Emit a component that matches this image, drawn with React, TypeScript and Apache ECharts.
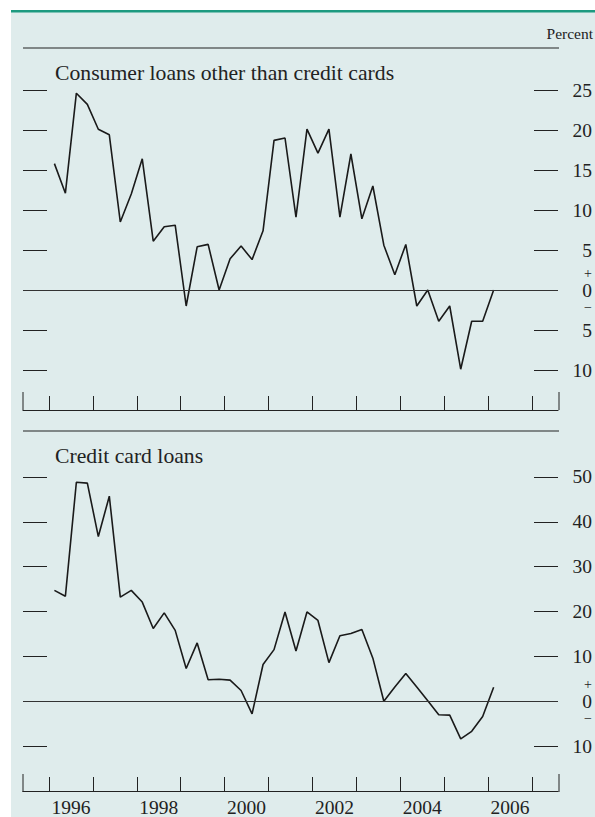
import React, { useEffect, useRef } from "react";
import * as echarts from "echarts";

const consumerLoans = [
  15.8, 12.1, 24.6, 23.2, 20.1, 19.4, 8.5, 12.0, 16.4, 6.1,
  7.9, 8.1, -2.0, 5.4, 5.7, 0.0, 3.9, 5.5, 3.8, 7.4,
  18.7, 19.0, 9.1, 20.1, 17.1, 20.1, 9.1, 17.0, 8.9, 13.0,
  5.6, 1.9, 5.7, -2.0, 0.0, -3.9, -2.0, -9.9, -3.9, -3.9,
  0.0,
];

const creditCardLoans = [
  24.7, 23.4, 48.8, 48.6, 36.7, 45.7, 23.2, 24.7, 22.1, 16.2,
  19.7, 15.8, 7.3, 13.0, 4.8, 4.9, 4.7, 2.4, -2.8, 8.2,
  11.5, 19.9, 11.2, 19.9, 18.0, 8.6, 14.6, 15.1, 16.0, 9.6,
  0.0, 3.2, 6.2, 3.2, 0.1, -3.0, -3.1, -8.4, -6.7, -3.4,
  3.1,
];

const firstYear = 1996;
const yearTicks = [1996, 1997, 1998, 1999, 2000, 2001, 2002, 2003, 2004, 2005, 2006, 2007];
const yearLabels = [1996, 1998, 2000, 2002, 2004, 2006];
const topTicks = [-10, -5, 0, 5, 10, 15, 20, 25];
const bottomTicks = [-10, 0, 10, 20, 30, 40, 50];

const titleTop = "Consumer loans other than credit cards";
const titleBottom = "Credit card loans";
const unitLabel = "Percent";

const FONT = "'Liberation Serif', 'Times New Roman', serif";
const INK = "#222";

function toPoints(values: number[]) {
  return values.map((v, i) => [firstYear + (i + 0.5) / 4, v]);
}

export default function App() {
  const ref = useRef<HTMLDivElement>(null);

  useEffect(() => {
    if (!ref.current) return;
    const chart = echarts.init(ref.current, null, { renderer: "svg" });

    const xAxisBase = (gridIndex: number, showLabels: boolean) => ({
      type: "value",
      gridIndex,
      min: 1995.41,
      max: 2007.59,
      axisLine: { show: true, onZero: false, lineStyle: { color: INK, width: 1.2 } },
      axisTick: {
        show: true,
        inside: true,
        length: 14,
        customValues: yearTicks,
        lineStyle: { color: INK, width: 1 },
      },
      splitLine: { show: false },
      axisLabel: {
        show: showLabels,
        customValues: yearLabels.map((y) => y + 0.5),
        formatter: (v: number) => String(Math.floor(v)),
        fontFamily: FONT,
        fontSize: 19.5,
        color: INK,
        margin: 6,
      },
    });

    const rightLabel = (v: number) => {
      if (v === 0) return "{s|+}\n{z|0}\n{s|\u2212}";
      return String(Math.abs(v));
    };

    const yAxisPair = (gridIndex: number, min: number, max: number, ticks: number[]) => [
      {
        type: "value",
        gridIndex,
        position: "left",
        min,
        max,
        axisLine: { show: false },
        axisTick: {
          show: true,
          inside: true,
          length: 24,
          customValues: ticks,
          lineStyle: { color: INK, width: 1 },
        },
        axisLabel: { show: false },
        splitLine: { show: false },
      },
      {
        type: "value",
        gridIndex,
        position: "right",
        min,
        max,
        axisLine: { show: false },
        axisTick: {
          show: true,
          inside: true,
          length: 24,
          customValues: ticks,
          lineStyle: { color: INK, width: 1 },
        },
        axisLabel: {
          show: true,
          customValues: ticks,
          formatter: rightLabel,
          align: "right",
          margin: 34,
          fontFamily: FONT,
          fontSize: 19.5,
          color: INK,
          rich: {
            s: { fontFamily: FONT, fontSize: 14, lineHeight: 14, color: INK },
            z: { fontFamily: FONT, fontSize: 19.5, lineHeight: 20, color: INK },
          },
        },
        splitLine: { show: false },
      },
    ];

    const zeroLine = {
      silent: true,
      symbol: "none",
      label: { show: false },
      lineStyle: { color: "#333", width: 1, type: "solid" },
      data: [{ yAxis: 0 }],
    };

    chart.setOption({
      animation: false,
      graphic: [
        { type: "rect", shape: { x: 11, y: 10, width: 584, height: 807 }, style: { fill: "#dfecec" }, z: -10 },
        { type: "rect", shape: { x: 11, y: 10, width: 584, height: 2.5 }, style: { fill: "#1d9a80" }, z: -9 },
        { type: "line", shape: { x1: 23, y1: 48, x2: 559, y2: 48 }, style: { stroke: INK, lineWidth: 1.2 } },
        { type: "line", shape: { x1: 23, y1: 431, x2: 559, y2: 431 }, style: { stroke: INK, lineWidth: 1.2 } },
        { type: "line", shape: { x1: 23, y1: 392, x2: 23, y2: 410 }, style: { stroke: INK, lineWidth: 1 } },
        { type: "line", shape: { x1: 559, y1: 392, x2: 559, y2: 410 }, style: { stroke: INK, lineWidth: 1 } },
        { type: "line", shape: { x1: 23, y1: 774, x2: 23, y2: 792 }, style: { stroke: INK, lineWidth: 1 } },
        { type: "line", shape: { x1: 559, y1: 774, x2: 559, y2: 792 }, style: { stroke: INK, lineWidth: 1 } },
        {
          type: "text",
          x: 593,
          y: 33,
          style: { text: unitLabel, align: "right", verticalAlign: "middle", font: `15.5px ${FONT}`, fill: INK },
        },
        {
          type: "text",
          x: 55,
          y: 73,
          style: { text: titleTop, align: "left", verticalAlign: "middle", font: `21.7px ${FONT}`, fill: INK },
        },
        {
          type: "text",
          x: 55,
          y: 456,
          style: { text: titleBottom, align: "left", verticalAlign: "middle", font: `21.7px ${FONT}`, fill: INK },
        },
      ],
      grid: [
        { left: 23, right: 36, top: 50, height: 360 },
        { left: 23, right: 36, top: 432, height: 360 },
      ],
      xAxis: [xAxisBase(0, false), xAxisBase(1, true)],
      yAxis: [
        ...yAxisPair(0, -15, 30, topTicks),
        ...yAxisPair(1, -20, 60, bottomTicks),
      ],
      series: [
        {
          type: "line",
          xAxisIndex: 0,
          yAxisIndex: 0,
          data: toPoints(consumerLoans),
          showSymbol: false,
          lineStyle: { color: "#1a1a1a", width: 1.6 },
          markLine: zeroLine,
        },
        {
          type: "line",
          xAxisIndex: 1,
          yAxisIndex: 2,
          data: toPoints(creditCardLoans),
          showSymbol: false,
          lineStyle: { color: "#1a1a1a", width: 1.6 },
          markLine: zeroLine,
        },
      ],
    });

    return () => chart.dispose();
  }, []);

  return (
    <div
      ref={ref}
      style={{ position: "fixed", left: 0, top: 0, width: 595, height: 817, background: "#ffffff" }}
    />
  );
}
